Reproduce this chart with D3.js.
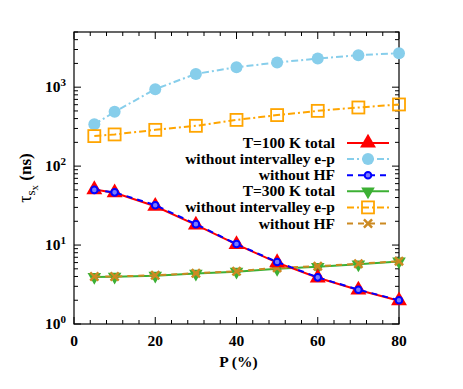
<!DOCTYPE html>
<html><head><meta charset="utf-8">
<script src="https://cdn.jsdelivr.net/npm/d3@7"></script>
<style>body{margin:0;background:#fff}svg{display:block}</style>
</head><body>
<script>
const P = [5, 10, 20, 30, 40, 50, 60, 70, 80];
const t100Total = [50.5, 46, 31, 18, 10.2, 6.0, 3.85, 2.7, 1.97];
const t100NoInter = [338, 487, 944, 1473, 1791, 2055, 2306, 2540, 2692];
const t100NoHF = [50, 46.5, 32, 18.4, 10.3, 6.1, 3.9, 2.72, 2.0];
const t300Total = [3.95, 3.97, 4.1, 4.35, 4.6, 5.0, 5.3, 5.7, 6.2];
const t300NoInter = [240, 252, 288, 324, 385, 443, 501, 553, 604];
const t300NoHF = [4.0, 4.0, 4.15, 4.4, 4.65, 5.15, 5.4, 5.8, 6.25];
const xTicks = [0, 20, 40, 60, 80];
const yTicks = [1, 10, 100, 1000];
const legendLabels = ["T=100 K total", "without intervalley e-p", "without HF", "T=300 K total", "without intervalley e-p", "without HF"];

const W = 463, H = 389;
const m = {l: 74, r: 64, t: 32, b: 65};
const iw = W - m.l - m.r, ih = H - m.t - m.b;
const svg = d3.select("body").append("svg").attr("width", W).attr("height", H);
const g = svg.append("g").attr("transform", `translate(${m.l},${m.t})`);
const x = d3.scaleLinear().domain([0, 80]).range([0, iw]);
const y = d3.scaleLog().domain([1, 5000]).range([ih, 0]);
const font = "'Liberation Serif', 'Times New Roman', serif";

// ticks
const minorX = d3.range(0, 81, 4);
const minorY = [];
for (let e = 0; e < 4; e++) for (let k = 2; k <= 9; k++) { const v = k * Math.pow(10, e); if (v <= 5000) minorY.push(v); }
const tk = g.append("g").attr("stroke", "#000").attr("stroke-width", 1);
minorX.forEach(v => {
  const L = xTicks.includes(v) ? 7 : 4;
  tk.append("line").attr("x1", x(v)).attr("x2", x(v)).attr("y1", ih).attr("y2", ih - L);
  tk.append("line").attr("x1", x(v)).attr("x2", x(v)).attr("y1", 0).attr("y2", L);
});
yTicks.concat(minorY).forEach(v => {
  const L = yTicks.includes(v) ? 7 : 4;
  tk.append("line").attr("y1", y(v)).attr("y2", y(v)).attr("x1", 0).attr("x2", L);
  tk.append("line").attr("y1", y(v)).attr("y2", y(v)).attr("x1", iw).attr("x2", iw - L);
});
g.append("rect").attr("width", iw).attr("height", ih).attr("fill", "none").attr("stroke", "#000").attr("stroke-width", 1.2);

// tick labels
xTicks.forEach(v => g.append("text").attr("x", x(v)).attr("y", ih + 22).attr("text-anchor", "middle")
  .attr("font-family", font).attr("font-weight", "bold").attr("font-size", 15.5).text(v));
yTicks.forEach(v => {
  const t = g.append("text").attr("x", -8).attr("y", y(v) + 5).attr("text-anchor", "end")
    .attr("font-family", font).attr("font-weight", "bold").attr("font-size", 15.5);
  t.append("tspan").text("10");
  t.append("tspan").attr("dy", -6).attr("font-size", 11).text(Math.round(Math.log10(v)));
});

// axis labels
svg.append("text").attr("x", m.l + iw / 2 + 2).attr("y", 367).attr("text-anchor", "middle")
  .attr("font-family", font).attr("font-weight", "bold").attr("font-size", 15.5).text("P (%)");
const yl = svg.append("text").attr("transform", `translate(31,${m.t + ih / 2}) rotate(-90)`).attr("text-anchor", "middle")
  .attr("font-family", font).attr("font-size", 18);
yl.append("tspan").text("τ");
yl.append("tspan").attr("dy", 4).attr("font-size", 13).text("s");
yl.append("tspan").attr("dy", 3).attr("font-size", 11).text("x");
yl.append("tspan").attr("dy", -7).attr("font-weight", "bold").attr("font-size", 17).text(" (ns)");

// series
const series = [
  {d: t100NoInter, color: "#87ceeb", dash: "7,3,2,3", sym: "circle"},
  {d: t300NoInter, color: "#ffa500", dash: "7,3,2,3", sym: "square"},
  {d: t300Total, color: "#3cb034", dash: null, sym: "tdown"},
  {d: t300NoHF, color: "#cc8a22", dash: "6,5", sym: "cross"},
  {d: t100Total, color: "#ff0000", dash: null, sym: "tup"},
  {d: t100NoHF, color: "#0000ff", dash: "6,5", sym: "smallcircle"}
];
const line = d3.line().x((d, i) => x(P[i])).y(d => y(d));
function marker(sel, sym, color, cx, cy) {
  if (sym === "circle") sel.append("circle").attr("cx", cx).attr("cy", cy).attr("r", 6).attr("fill", color);
  else if (sym === "square") sel.append("rect").attr("x", cx - 6).attr("y", cy - 6).attr("width", 12).attr("height", 12).attr("fill", "none").attr("stroke", color).attr("stroke-width", 1.8);
  else if (sym === "tup") sel.append("path").attr("d", d3.symbol(d3.symbolTriangle, 110)()).attr("transform", `translate(${cx},${cy})`).attr("fill", color);
  else if (sym === "tdown") sel.append("path").attr("d", d3.symbol(d3.symbolTriangle, 80)()).attr("transform", `translate(${cx},${cy}) rotate(180)`).attr("fill", color);
  else if (sym === "cross") sel.append("path").attr("d", d3.symbol(d3.symbolX, 45)()).attr("transform", `translate(${cx},${cy})`).attr("fill", "none").attr("stroke", color).attr("stroke-width", 2.5);
  else if (sym === "smallcircle") sel.append("circle").attr("cx", cx).attr("cy", cy).attr("r", 3.3).attr("fill", "#7a7aff").attr("stroke", color).attr("stroke-width", 2);
}
series.forEach(s => {
  g.append("path").datum(s.d).attr("d", line).attr("fill", "none").attr("stroke", s.color)
    .attr("stroke-width", 2).attr("stroke-dasharray", s.dash);
  s.d.forEach((v, i) => marker(g, s.sym, s.color, x(P[i]), y(v)));
});

// legend
const legOrder = [4, 0, 5, 2, 1, 3];
const lg = svg.append("g");
legOrder.forEach((si, k) => {
  const s = series[si];
  const yy = 143 + k * 16.1;
  lg.append("text").attr("x", 335).attr("y", yy + 5).attr("text-anchor", "end")
    .attr("font-family", font).attr("font-weight", "bold").attr("font-size", 15.5).text(legendLabels[k]);
  lg.append("line").attr("x1", 347).attr("x2", 389).attr("y1", yy).attr("y2", yy)
    .attr("stroke", s.color).attr("stroke-width", 2).attr("stroke-dasharray", s.dash);
  marker(lg, s.sym, s.color, 368, yy);
});
</script>
</body></html>
